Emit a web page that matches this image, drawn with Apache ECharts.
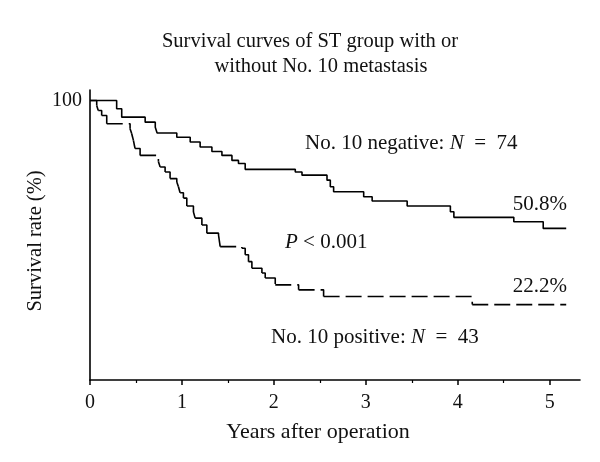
<!DOCTYPE html>
<html>
<head>
<meta charset="utf-8">
<script src="https://cdn.jsdelivr.net/npm/echarts@6/dist/echarts.min.js"></script>
<style>html,body{margin:0;padding:0;background:#fff}#c{width:600px;height:462px}</style>
</head>
<body>
<div id="c"></div>
<script>
// Years after operation (event times) and survival rate (%) after each step
const negTimes = [0, 0.29, 0.345, 0.60, 0.71, 0.73, 0.944, 1.09, 1.198, 1.326, 1.435, 1.544, 1.615, 1.688, 2.233, 2.306, 2.578, 2.614, 2.65, 2.977, 3.069, 3.45, 3.92, 3.958, 4.61, 4.93, 5.18];
const negSurv  = [100, 96.9, 93.7, 91.8, 89.9, 87.7, 86.1, 84.3, 82.4, 80.7, 79.2, 77.3, 76.1, 73.9, 72.9, 71.7, 69.8, 67.3, 65.4, 63.5, 61.9, 60.0, 57.8, 55.7, 54.0, 51.5, 51.5];

const posTimes = [0, 0.073, 0.09, 0.127, 0.182, 0.436, 0.454, 0.472, 0.49, 0.545, 0.744, 0.763, 0.817, 0.871, 0.944, 0.962, 0.98, 1.016, 1.053, 1.125, 1.144, 1.217, 1.271, 1.398, 1.416, 1.652, 1.688, 1.724, 1.761, 1.87, 1.906, 2.015, 2.269, 2.541, 4.158, 5.18];
const posSurv  = [100, 98.1, 96.2, 94.3, 91.2, 89.3, 87.4, 84.9, 81.8, 79.2, 76.9, 74.8, 72.9, 70.4, 69.1, 67.3, 65.0, 63.0, 60.0, 57.7, 55.4, 52.8, 49.7, 49.0, 44.6, 44.0, 41.5, 38.9, 36.4, 34.6, 32.7, 30.1, 28.2, 25.7, 22.6, 22.6];

const xTickLabels = [0, 1, 2, 3, 4, 5];
const xMinorTicks = [0.5, 1.5, 2.5, 3.5, 4.5];
const yTickLabels = [100];

const FONT = '"Liberation Serif", "DejaVu Serif", serif';

const negData = negTimes.map((t, i) => [t, negSurv[i]]);

// positive group: one dashed piece per step so the dash pattern restarts at each step
const posSeries = [];
for (let i = 0; i < posTimes.length - 1; i++) {
  const pts = [[posTimes[i], posSurv[i]], [posTimes[i + 1], posSurv[i]]];
  if (posSurv[i + 1] !== posSurv[i]) pts.push([posTimes[i + 1], posSurv[i + 1]]);
  posSeries.push({
    type: 'line', data: pts, symbol: 'none', silent: true, animation: false,
    lineStyle: { color: '#000', width: 1.6, type: [16, 6] }, z: 3
  });
}

const chart = echarts.init(document.getElementById('c'), null, { renderer: 'canvas' });
const IT = { i: { font: 'italic 21px ' + FONT, fill: '#111' } };
const txt = (x, y, text, size, align, rich) => ({
  type: 'text', x, y,
  style: { text, rich, font: size + 'px ' + FONT, fill: '#111', align: align || 'left', verticalAlign: 'middle' }
});
chart.setOption({
  backgroundColor: '#fff',
  animation: false,
  grid: { left: 90, right: 20, top: 90, bottom: 82 },
  xAxis: [{
    type: 'value', min: 0, max: 5.33,
    axisLine: { onZero: false, lineStyle: { color: '#000', width: 1.6 } },
    axisTick: { customValues: xTickLabels, length: 5, lineStyle: { color: '#000', width: 1.5 } },
    axisLabel: { customValues: xTickLabels, color: '#111', fontFamily: FONT, fontSize: 20, margin: 13 },
    splitLine: { show: false }
  }, {
    type: 'value', min: 0, max: 5.33, position: 'bottom',
    axisLine: { show: false, onZero: false },
    axisTick: { customValues: xMinorTicks, inside: false, length: 3, lineStyle: { color: '#000', width: 1.2 } },
    axisLabel: { show: false },
    splitLine: { show: false }
  }],
  yAxis: {
    type: 'value', min: -6, max: 104,
    axisLine: { show: true, onZero: false, lineStyle: { color: '#000', width: 1.6 } },
    axisTick: { show: false },
    axisLabel: { customValues: yTickLabels, color: '#111', fontFamily: FONT, fontSize: 20, margin: 8 },
    splitLine: { show: false }
  },
  graphic: [
    txt(310, 42, 'Survival curves of ST group with or', 20.5, 'center'),
    txt(321, 67, 'without No. 10 metastasis', 20.5, 'center'),
    { type: 'text', x: 36, y: 241, rotation: Math.PI / 2,
      style: { text: 'Survival rate (%)', font: '20.5px ' + FONT, fill: '#111', align: 'center', verticalAlign: 'middle' } },
    txt(318, 432, 'Years after operation', 22, 'center'),
    txt(305, 143, 'No. 10 negative: {i|N}  =  74', 21, 'left', IT),
    txt(567, 204, '50.8%', 21, 'right'),
    txt(285, 242, '{i|P} < 0.001', 21, 'left', IT),
    txt(567, 286, '22.2%', 21, 'right'),
    txt(271, 337, 'No. 10 positive: {i|N}  =  43', 21, 'left', IT)
  ],
  series: [{
    type: 'line', data: negData, step: 'end', symbol: 'none', silent: true, animation: false,
    lineStyle: { color: '#000', width: 1.6 }, z: 3
  }].concat(posSeries)
});
</script>
</body>
</html>
